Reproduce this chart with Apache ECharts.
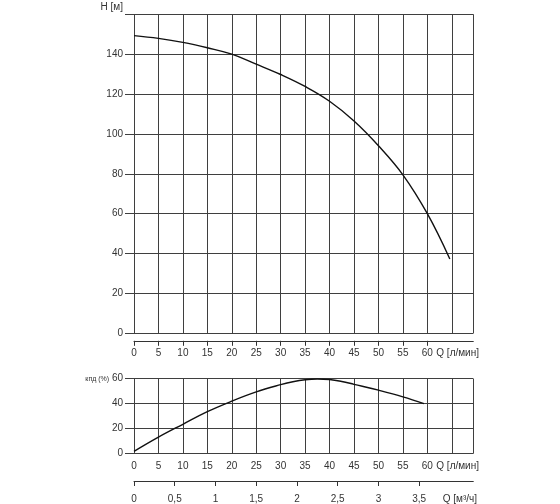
<!DOCTYPE html>
<html>
<head>
<meta charset="utf-8">
<script src="https://cdn.jsdelivr.net/npm/echarts@6/dist/echarts.min.js"></script>
<style>
html,body{margin:0;padding:0;background:#fff;}
#c{width:560px;height:504px;}
</style>
</head>
<body>
<div id="c"></div>
<script>
// ---- data ----
const qHead = [0, 5, 10, 15, 20, 25, 30, 35, 40, 45, 50, 55, 60, 64.6];
const headM = [149.3, 147.9, 145.9, 143.2, 140, 135, 129.8, 123.8, 116.4, 106.5, 94.1, 79.5, 60, 37.3];

const qEff = [0, 5, 10, 15, 20, 25, 30, 32.5, 35, 37.5, 40, 42.5, 45, 50, 55, 59.3];
const effPct = [1.8, 13.2, 23.5, 33.6, 42, 49.4, 55.2, 57.6, 59.2, 59.8, 59.4, 57.8, 55.5, 50.8, 45.5, 40];

const qTicks = [0, 5, 10, 15, 20, 25, 30, 35, 40, 45, 50, 55, 60];
const qLabelVals = [0, 5, 10, 15, 20, 25, 30, 35, 40, 45, 50, 55, 60, 66.2];
const m3Ticks = [0, 0.5, 1, 1.5, 2, 2.5, 3, 3.5];
const m3LabelVals = [0, 0.5, 1, 1.5, 2, 2.5, 3, 3.5, 4];
const headLabelVals = [0, 20, 40, 60, 80, 100, 120, 140];
const effLabelVals = [0, 20, 40, 60];

const Q_MAX = 69.4;
const M3_MAX = Q_MAX * 0.06;

// ---- chart ----
const chart = echarts.init(document.getElementById('c'));
const font = '"Liberation Sans", Arial, sans-serif';
const gridColor = '#3f3f3f';
const textColor = '#333';

const qFmt = v => (v > 62 ? 'Q [л/мин]' : String(v));
const m3Fmt = v => (v === 4 ? 'Q [м³/ч]' : String(v).replace('.', ','));

const toPairs = (xs, ys) => xs.map((x, i) => [x, ys[i]]);

const option = {
  animation: false,
  backgroundColor: '#fff',
  textStyle: { fontFamily: font },
  grid: [
    { left: 134, top: 14.3, width: 339.3, height: 319 },
    { left: 134, top: 378.7, width: 339.3, height: 75.6 }
  ],
  xAxis: [
    { // grid lines of upper chart
      gridIndex: 0, type: 'value', position: 'bottom', min: 0, max: Q_MAX, interval: 5,
      axisLine: { show: false }, axisTick: { show: false }, axisLabel: { show: false },
      splitLine: { show: true, lineStyle: { color: gridColor, width: 1 } }
    },
    { // offset Q axis of upper chart
      gridIndex: 0, type: 'value', position: 'bottom', offset: 7.5, min: 0, max: Q_MAX, interval: 5,
      axisLine: { show: true, onZero: false, lineStyle: { color: textColor, width: 1 } },
      axisTick: { show: true, length: 5, customValues: qTicks, lineStyle: { color: textColor } },
      axisLabel: { customValues: qLabelVals, formatter: qFmt, margin: 7, hideOverlap: false, color: textColor, fontSize: 10, fontFamily: font },
      splitLine: { show: false }
    },
    { // lower chart Q axis
      gridIndex: 1, type: 'value', position: 'bottom', min: 0, max: Q_MAX, interval: 5,
      axisLine: { show: false }, axisTick: { show: false },
      axisLabel: { customValues: qLabelVals, formatter: qFmt, margin: 8, hideOverlap: false, color: textColor, fontSize: 10, fontFamily: font },
      splitLine: { show: true, lineStyle: { color: gridColor, width: 1 } }
    },
    { // m3/h axis
      gridIndex: 1, type: 'value', position: 'bottom', offset: 27.4, min: 0, max: M3_MAX, interval: 0.5,
      axisLine: { show: true, onZero: false, lineStyle: { color: textColor, width: 1 } },
      axisTick: { show: true, length: 5, customValues: m3Ticks, lineStyle: { color: textColor } },
      axisLabel: { customValues: m3LabelVals, formatter: m3Fmt, margin: 13, hideOverlap: false, color: textColor, fontSize: 10, fontFamily: font },
      splitLine: { show: false }
    }
  ],
  yAxis: [
    {
      gridIndex: 0, type: 'value', min: 0, max: 160, interval: 20,
      name: 'H [м]', nameLocation: 'end', nameGap: 2,
      nameTextStyle: { align: 'right', padding: [0, 11, 0, 0], color: textColor, fontSize: 10, fontFamily: font },
      axisLine: { show: false },
      axisTick: { show: true, length: 9, lineStyle: { color: gridColor } },
      axisLabel: { customValues: headLabelVals, margin: 11, color: textColor, fontSize: 10, fontFamily: font },
      splitLine: { show: true, lineStyle: { color: gridColor, width: 1 } }
    },
    {
      gridIndex: 1, type: 'value', min: 0, max: 60, interval: 20,
      axisLine: { show: false },
      axisTick: { show: true, length: 9, lineStyle: { color: gridColor } },
      axisLabel: {
        customValues: effLabelVals, margin: 11, color: textColor, fontSize: 10, fontFamily: font,
        formatter: v => (v === 60 ? '{s|кпд (%)} 60' : String(v)),
        rich: { s: { fontSize: 7, color: textColor, fontFamily: font } }
      },
      splitLine: { show: true, lineStyle: { color: gridColor, width: 1 } }
    }
  ],
  series: [
    {
      type: 'line', xAxisIndex: 0, yAxisIndex: 0, data: toPairs(qHead, headM),
      smooth: 0.4, showSymbol: false, lineStyle: { color: '#111', width: 1.4 }
    },
    {
      type: 'line', xAxisIndex: 2, yAxisIndex: 1, data: toPairs(qEff, effPct),
      smooth: 0.4, showSymbol: false, lineStyle: { color: '#111', width: 1.4 }
    }
  ]
};
chart.setOption(option);
</script>
</body>
</html>
